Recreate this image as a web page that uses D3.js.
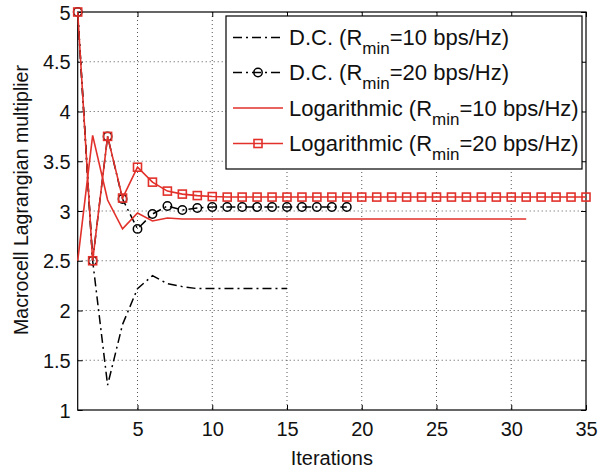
<!DOCTYPE html>
<html>
<head>
<meta charset="utf-8">
<script src="https://cdn.jsdelivr.net/npm/d3@7/dist/d3.min.js"></script>
<style>
  body { margin: 0; background: #fff; }
  text { font-family: "Liberation Sans", Arial, sans-serif; }
</style>
</head>
<body>
<script>
// values, one array per series (index = iteration - 1)
var dc10 = [5, 2.5, 1.25, 1.86, 2.22, 2.35, 2.27, 2.24, 2.22, 2.22, 2.22, 2.22, 2.22, 2.22, 2.22];
var dc20 = [5, 2.5, 3.75, 3.12, 2.82, 2.97, 3.05, 3.01, 3.03, 3.04, 3.04, 3.04, 3.04, 3.04, 3.04, 3.04, 3.04, 3.04, 3.04];
var log10 = [2.5, 3.76, 3.11, 2.82, 2.98, 2.9, 2.93, 2.92, 2.92, 2.92, 2.92, 2.92, 2.92, 2.92, 2.92, 2.92,
             2.92, 2.92, 2.92, 2.92, 2.92, 2.92, 2.92, 2.92, 2.92, 2.92, 2.92, 2.92, 2.92, 2.92, 2.92];
var log20 = [5, 2.5, 3.75, 3.13, 3.44, 3.29, 3.2, 3.17, 3.155, 3.145, 3.14, 3.14, 3.14, 3.14, 3.14, 3.14,
             3.14, 3.14, 3.14, 3.14, 3.14, 3.14, 3.14, 3.14, 3.14, 3.14, 3.14, 3.14, 3.14, 3.14, 3.14,
             3.14, 3.14, 3.14, 3.14];

var xTicks = [5, 10, 15, 20, 25, 30, 35];
var yTicks = [1, 1.5, 2, 2.5, 3, 3.5, 4, 4.5, 5];

var legendPrefix = ["D.C. (R", "D.C. (R", "Logarithmic (R", "Logarithmic (R"];
var legendSuffix = ["=10 bps/Hz)", "=20 bps/Hz)", "=10 bps/Hz)", "=20 bps/Hz)"];

var w = 603;
var h = 472;
var red = "#e2302a";
var pL = 77.7, pR = 586, pT = 12, pB = 410;

var svg = d3.select("body")
            .append("svg")
            .attr("width", w)
            .attr("height", h);

var x = d3.scaleLinear().domain([1, 35]).range([pL, pR]);
var y = d3.scaleLinear().domain([1, 5]).range([pB, pT]);

// dotted grid
var grid = svg.append("g").attr("stroke", "#555").attr("stroke-width", 1).attr("stroke-dasharray", "1,3");
grid.selectAll("line.gx")
    .data(xTicks.filter(function(d) { return d < 35; }))
    .enter()
    .append("line")
    .attr("x1", function(d) { return x(d); })
    .attr("x2", function(d) { return x(d); })
    .attr("y1", pT)
    .attr("y2", pB);
grid.selectAll("line.gy")
    .data(yTicks.filter(function(d) { return d > 1 && d < 5; }))
    .enter()
    .append("line")
    .attr("x1", pL)
    .attr("x2", pR)
    .attr("y1", function(d) { return y(d); })
    .attr("y2", function(d) { return y(d); });

// axes (ticks point inward like matlab)
var fs = "20px";
var gx = svg.append("g")
    .attr("transform", "translate(0," + pB + ")")
    .call(d3.axisBottom(x).tickValues(xTicks).tickSize(-5).tickPadding(12).tickSizeOuter(0));
var gy = svg.append("g")
    .attr("transform", "translate(" + pL + ",0)")
    .call(d3.axisLeft(y).tickValues(yTicks).tickSize(-5).tickPadding(7).tickSizeOuter(0).tickFormat(d3.format("")));
var gt = svg.append("g")
    .attr("transform", "translate(0," + pT + ")")
    .call(d3.axisTop(x).tickValues(xTicks).tickSize(-5).tickFormat("").tickSizeOuter(0));
var gr = svg.append("g")
    .attr("transform", "translate(" + pR + ",0)")
    .call(d3.axisRight(y).tickValues(yTicks).tickSize(-5).tickFormat("").tickSizeOuter(0));
[gx, gy, gt, gr].forEach(function(g) {
    g.select(".domain").remove();
    g.selectAll("line").attr("stroke", "#000");
    g.selectAll("text")
     .attr("fill", "#111")
     .style("font-size", fs)
     .style("font-family", "'Liberation Sans', Arial, sans-serif");
});
gy.selectAll("text").attr("dy", "0.36em");

svg.append("rect")
   .attr("x", pL)
   .attr("y", pT)
   .attr("width", pR - pL)
   .attr("height", pB - pT)
   .attr("fill", "none")
   .attr("stroke", "#000")
   .attr("stroke-width", 1.2);

svg.append("text")
   .attr("x", (pL + pR) / 2)
   .attr("y", 465)
   .attr("text-anchor", "middle")
   .attr("font-size", "20px")
   .attr("fill", "#111")
   .text("Iterations");
svg.append("text")
   .attr("transform", "translate(28,200) rotate(-90)")
   .attr("text-anchor", "middle")
   .attr("font-size", "19.5px")
   .attr("fill", "#111")
   .text("Macrocell Lagrangian multiplier");

// series
var line = d3.line()
    .x(function(d, i) { return x(i + 1); })
    .y(function(d) { return y(d); });

var plot = svg.append("g");
plot.append("path").datum(dc10).attr("d", line)
    .attr("fill", "none").attr("stroke", "#000").attr("stroke-width", 1.5).attr("stroke-dasharray", "9,4,2,4");
plot.append("path").datum(dc20).attr("d", line)
    .attr("fill", "none").attr("stroke", "#000").attr("stroke-width", 1.5).attr("stroke-dasharray", "9,4,2,4");
plot.selectAll("circle.dc20")
    .data(dc20)
    .enter()
    .append("circle")
    .attr("cx", function(d, i) { return x(i + 1); })
    .attr("cy", function(d) { return y(d); })
    .attr("r", 4.2)
    .attr("fill", "none")
    .attr("stroke", "#000")
    .attr("stroke-width", 1.5);
plot.append("path").datum(log10).attr("d", line)
    .attr("fill", "none").attr("stroke", red).attr("stroke-width", 1.6);
plot.append("path").datum(log20).attr("d", line)
    .attr("fill", "none").attr("stroke", red).attr("stroke-width", 1.6);
plot.selectAll("rect.log20")
    .data(log20)
    .enter()
    .append("rect")
    .attr("x", function(d, i) { return x(i + 1) - 4; })
    .attr("y", function(d) { return y(d) - 4; })
    .attr("width", 8)
    .attr("height", 8)
    .attr("fill", "none")
    .attr("stroke", red)
    .attr("stroke-width", 1.6);

// legend
var lg = svg.append("g");
lg.append("rect")
  .attr("x", 226).attr("y", 16)
  .attr("width", 356).attr("height", 153)
  .attr("fill", "#fff").attr("stroke", "#000").attr("stroke-width", 1.2);
var rowY = [37.5, 72.5, 108, 143.5];
var styles = [
  { stroke: "#000", dash: "9,4,2,4", marker: null },
  { stroke: "#000", dash: "9,4,2,4", marker: "circle" },
  { stroke: red, dash: null, marker: null },
  { stroke: red, dash: null, marker: "square" }
];
styles.forEach(function(s, i) {
  lg.append("line")
    .attr("x1", 233).attr("x2", 283)
    .attr("y1", rowY[i]).attr("y2", rowY[i])
    .attr("stroke", s.stroke).attr("stroke-width", 1.5)
    .attr("stroke-dasharray", s.dash);
  if (s.marker == "circle") {
    lg.append("circle").attr("cx", 258).attr("cy", rowY[i]).attr("r", 4.2)
      .attr("fill", "none").attr("stroke", "#000").attr("stroke-width", 1.5);
  }
  if (s.marker == "square") {
    lg.append("rect").attr("x", 254).attr("y", rowY[i] - 4).attr("width", 8).attr("height", 8)
      .attr("fill", "none").attr("stroke", red).attr("stroke-width", 1.6);
  }
  var t = lg.append("text")
    .attr("x", 289).attr("y", rowY[i] + 7.5)
    .attr("font-size", "22px")
    .attr("fill", "#111");
  t.append("tspan").text(legendPrefix[i]);
  t.append("tspan").attr("dy", 9).attr("font-size", "17px").text("min");
  t.append("tspan").attr("dy", -9).text(legendSuffix[i]);
});
</script>
</body>
</html>
